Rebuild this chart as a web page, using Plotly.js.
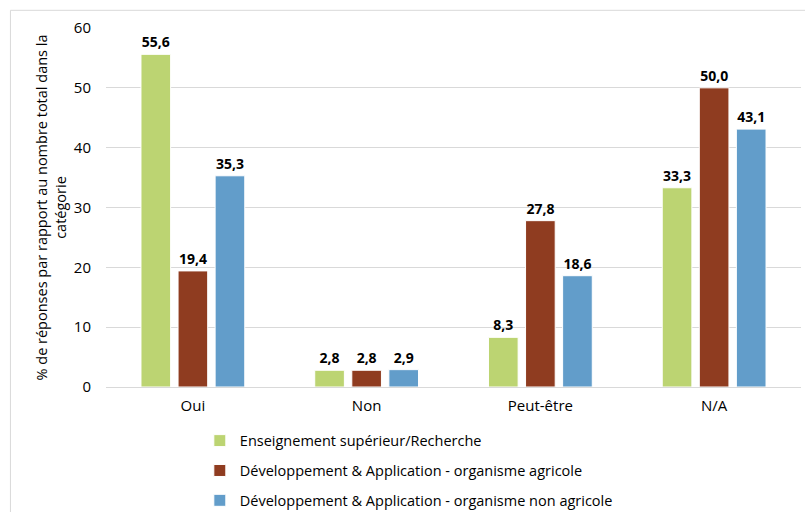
<!DOCTYPE html>
<html>
<head>
<meta charset="utf-8">
<script src="https://cdn.plot.ly/plotly-3.0.1.min.js"></script>
<style>html,body{margin:0;padding:0;background:#fff;}#chart{width:805px;height:512px;}</style>
</head>
<body>
<div id="chart"></div>
<script>
const categories = ["Oui", "Non", "Peut-être", "N/A"];
const seriesNames = [
  "Enseignement supérieur/Recherche",
  "Développement & Application - organisme agricole",
  "Développement & Application - organisme non agricole"
];
const enseignement = [55.6, 2.8, 8.3, 33.3];
const devAgricole = [19.4, 2.8, 27.8, 50.0];
const devNonAgricole = [35.3, 2.9, 18.6, 43.1];
const colors = ["#bcd472", "#8f3c20", "#629dca"];

const values = [enseignement, devAgricole, devNonAgricole];
const font = "Open Sans, Liberation Sans, sans-serif";

const traces = values.map((v, i) => ({
  type: "bar",
  name: seriesNames[i],
  x: categories,
  y: v,
  legendgroup: "g" + i,
  marker: {color: colors[i], line: {color: "#ffffff", width: 1}},
  texttemplate: "<b>%{y:.1f}</b>",
  textposition: "outside",
  cliponaxis: false,
  textfont: {family: font, size: 14, color: "#000"},
  hoverinfo: "skip"
}));

const layout = {
  width: 805, height: 512,
  margin: {l: 106, r: 4, t: 28, b: 125, autoexpand: false},
  paper_bgcolor: "#fff", plot_bgcolor: "#fff",
  separators: ", ",
  barmode: "group",
  bargap: 0.36,
  bargroupgap: 0.2,
  font: {family: font, size: 14, color: "#000"},
  xaxis: {
    showgrid: false, showline: true, linecolor: "#d9d9d9", linewidth: 1,
    ticks: "", tickfont: {size: 15, color: "#000"}, ticklabelstandoff: 5
  },
  yaxis: {
    range: [0, 60], dtick: 10, showgrid: true, gridcolor: "#d9d9d9", gridwidth: 1,
    zeroline: false, showline: false, ticks: "",
    tickfont: {size: 15, color: "#000"}, ticklabelstandoff: 14,
    title: {text: "% de réponses par rapport au nombre total dans la<br>catégorie", font: {size: 14.5, color: "#000"}, standoff: 3}
  },
  showlegend: true,
  legend: {
    orientation: "v", x: 0.135, y: -0.105, xanchor: "left", yanchor: "top",
    font: {size: 14.5, color: "#000"}, tracegroupgap: 8, itemwidth: 30
  },
  shapes: [
    {type: "rect", xref: "paper", yref: "paper", x0: -0.1375, x1: 1.2, y0: -0.4, y1: 1.0493,
     line: {color: "#d9d9d9", width: 1}, fillcolor: "rgba(0,0,0,0)", layer: "below"}
  ]
};

Plotly.newPlot("chart", traces, layout, {displayModeBar: false, staticPlot: true});
</script>
</body>
</html>
